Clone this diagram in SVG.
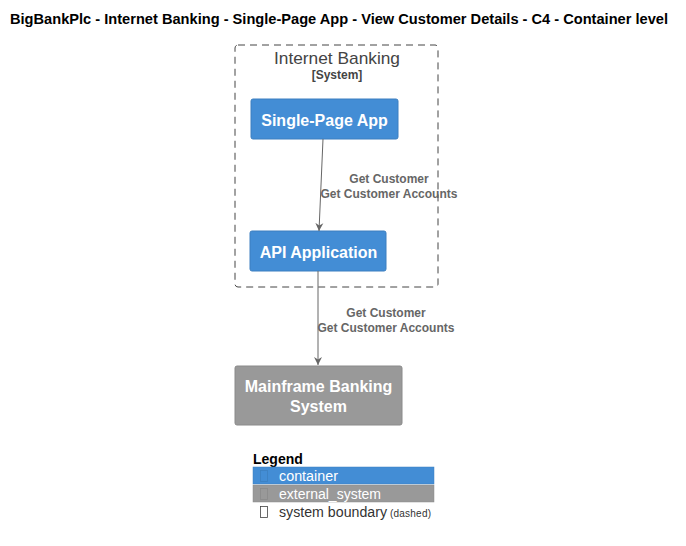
<svg xmlns="http://www.w3.org/2000/svg" width="686" height="546" viewBox="0 0 686 546">
<style>
text{font-family:"Liberation Sans",Arial,sans-serif}
.title{font-size:14px;font-weight:bold;fill:#000}
.node{fill:#FFFFFF;font-size:16px;font-weight:bold}
.lbl{fill:#666666;font-size:12px;font-weight:bold}
.conn{stroke:#666666;stroke-width:1;fill:none}
.leg{font-size:14px;fill:#FFFFFF}
</style>
<defs>
<marker id="arr" viewBox="0 0 10 10" refX="10" refY="5" markerWidth="8" markerHeight="10" orient="auto" markerUnits="userSpaceOnUse">
<path d="M0,0 L10,5 L0,10 L3,5 z" fill="#666666"/>
</marker>
</defs>
<rect width="686" height="546" fill="#FFFFFF"/>
<text class="title" x="10" y="24" textLength="658" lengthAdjust="spacingAndGlyphs">BigBankPlc - Internet Banking - Single-Page App - View Customer Details - C4 - Container level</text>
<g id="boundary">
<rect x="235" y="45" width="203" height="242" rx="3" fill="none" stroke="#444444" stroke-dasharray="7,5"/>
<text x="274" y="64" font-size="17" fill="#444444" textLength="126" lengthAdjust="spacingAndGlyphs">Internet Banking</text>
<text x="337" y="79" text-anchor="middle" font-size="12" font-weight="bold" fill="#444444">[System]</text>
</g>
<g id="spa">
<rect x="251" y="99" width="147" height="40" rx="2" fill="#438DD5" stroke="#3C7FC0"/>
<text class="node" x="324.5" y="126" text-anchor="middle">Single-Page App</text>
</g>
<g id="api">
<rect x="250" y="231" width="136" height="40" rx="2" fill="#438DD5" stroke="#3C7FC0"/>
<text class="node" x="318.5" y="258" text-anchor="middle">API Application</text>
</g>
<g id="mainframe">
<rect x="235" y="366" width="167" height="59" rx="2" fill="#999999" stroke="#8A8A8A"/>
<text class="node" x="318.5" y="392" text-anchor="middle">Mainframe Banking</text>
<text class="node" x="318.5" y="412" text-anchor="middle">System</text>
</g>
<g id="connectors">
<line class="conn" x1="323" y1="139" x2="319" y2="231" marker-end="url(#arr)"/>
<text class="lbl" x="389" y="183" text-anchor="middle">Get Customer</text>
<text class="lbl" x="389" y="198" text-anchor="middle">Get Customer Accounts</text>
<line class="conn" x1="318" y1="271" x2="318" y2="365" marker-end="url(#arr)"/>
<text class="lbl" x="386" y="317" text-anchor="middle">Get Customer</text>
<text class="lbl" x="386" y="332" text-anchor="middle">Get Customer Accounts</text>
</g>
<g id="legend">
<text x="253" y="464" font-size="14" font-weight="bold" fill="#000">Legend</text>
<rect x="253" y="467" width="181" height="17" fill="#438DD5" stroke="#3C7FC0" stroke-width="0.5"/>
<rect x="260.5" y="470.5" width="7" height="11" fill="none" stroke="#3C7FC0" stroke-width="0.8"/>
<text class="leg" x="279" y="481" textLength="59" lengthAdjust="spacingAndGlyphs">container</text>
<rect x="253" y="485" width="181" height="17" fill="#999999" stroke="#8A8A8A" stroke-width="0.5"/>
<rect x="260.5" y="488.5" width="7" height="11" fill="none" stroke="#8A8A8A" stroke-width="0.8"/>
<text class="leg" x="279" y="499" textLength="102" lengthAdjust="spacingAndGlyphs">external_system</text>
<rect x="260.5" y="506.5" width="7" height="11" fill="none" stroke="#444444" stroke-width="0.8"/>
<text x="279" y="517" font-size="14" fill="#333333" textLength="108" lengthAdjust="spacingAndGlyphs">system boundary</text>
<text x="390" y="517" font-size="10" fill="#333333" textLength="41" lengthAdjust="spacing">(dashed)</text>
</g>
</svg>
